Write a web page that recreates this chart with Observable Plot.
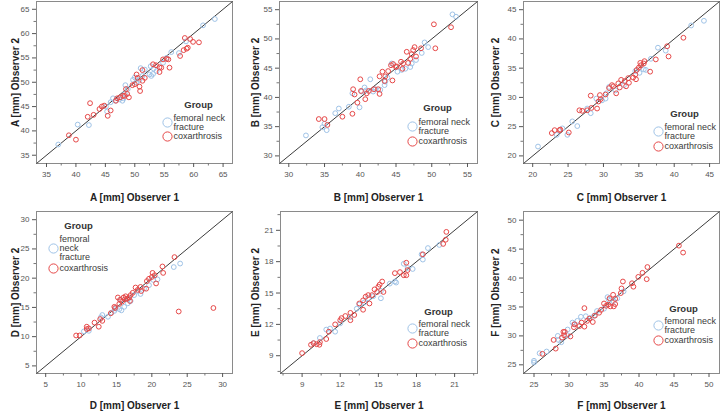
<!DOCTYPE html>
<html><head><meta charset="utf-8">
<script src="https://cdn.jsdelivr.net/npm/d3@7"></script>
<script src="https://cdn.jsdelivr.net/npm/@observablehq/plot@0.6"></script>
<style>
body{margin:0;background:#fff;}
#grid{display:grid;grid-template-columns:240px 240px 240px;grid-template-rows:206px 206px;width:720px;height:412px;overflow:hidden;}
#grid svg{display:block;}
</style></head><body><div id="grid"></div>
<script>
// ---- data: [Observer 1, Observer 2] in mm ----
const A_fracture = [[37.0,37.2],[40.3,41.3],[42.2,41.2],[45.1,45.0],[45.3,44.0],[45.9,45.9],[46.3,46.7],[46.7,46.2],[47.4,46.5],[47.9,46.2],[48.1,46.7],[48.3,47.6],[48.4,49.4],[48.8,48.6],[49.7,50.5],[50.0,51.0],[50.3,50.0],[50.8,50.5],[51.0,52.9],[51.3,51.3],[51.7,52.6],[52.5,51.6],[52.7,53.3],[52.8,51.3],[53.1,51.7],[53.2,52.8],[53.7,52.3],[54.8,54.0],[55.4,55.0],[56.2,56.2],[57.5,56.0],[58.7,58.4],[61.6,61.7],[63.6,63.0]];
const A_cox = [[38.8,39.1],[40.0,38.2],[42.0,42.9],[42.4,45.7],[43.0,43.3],[44.0,44.5],[44.4,45.0],[44.8,45.2],[45.4,43.1],[45.9,44.2],[46.8,46.2],[47.0,46.7],[47.5,46.9],[48.0,47.2],[48.3,47.2],[48.5,48.6],[48.7,47.6],[49.0,46.9],[49.6,49.4],[50.0,49.6],[50.3,51.6],[50.5,50.9],[50.8,49.1],[50.9,48.2],[51.3,50.3],[51.3,52.5],[51.7,50.9],[53.1,53.7],[53.6,53.5],[54.2,53.1],[54.2,52.1],[54.5,53.0],[54.8,54.7],[55.4,54.8],[55.7,54.7],[55.9,53.0],[57.7,55.4],[58.3,56.6],[58.5,59.1],[58.8,56.9],[59.0,57.1],[59.4,58.9],[59.9,58.3],[60.9,58.2]];
const B_fracture = [[32.4,33.5],[34.7,34.9],[35.0,35.5],[35.3,34.4],[36.5,37.3],[37.0,38.1],[38.4,38.4],[38.9,40.7],[39.9,38.3],[40.2,41.0],[40.6,41.7],[40.8,41.2],[41.4,43.1],[41.8,41.0],[42.1,41.4],[42.8,41.3],[43.4,42.1],[43.5,42.7],[43.8,43.4],[44.4,45.8],[45.2,44.4],[45.8,44.7],[46.3,44.9],[47.0,45.2],[47.2,45.8],[47.8,46.4],[48.6,47.6],[49.0,49.4],[49.5,48.6],[52.9,54.2],[53.4,53.8]];
const B_cox = [[34.2,36.3],[35.0,36.3],[35.4,35.3],[37.5,36.7],[38.9,37.2],[39.0,41.4],[39.2,40.5],[39.6,39.1],[40.0,43.1],[40.1,41.1],[40.7,39.7],[40.9,40.7],[41.2,41.1],[41.9,41.4],[42.5,41.4],[42.7,40.6],[42.7,43.6],[43.1,44.4],[43.4,42.8],[43.5,43.6],[43.9,44.5],[44.3,45.5],[44.5,42.9],[44.6,45.7],[45.0,45.2],[45.1,45.3],[45.7,46.1],[45.9,44.9],[46.0,45.8],[46.5,47.8],[46.7,45.9],[47.0,46.6],[47.2,47.4],[47.4,48.1],[47.6,48.6],[47.8,47.0],[48.5,48.4],[50.3,52.5],[50.5,48.4],[52.7,52.0]];
const C_fracture = [[20.75,21.6],[23.4,23.6],[24.2,24.7],[24.9,23.6],[25.6,25.9],[26.3,25.1],[27.7,28.1],[28.2,27.3],[29.0,29.8],[29.8,29.5],[30.3,29.8],[30.4,30.7],[30.8,31.8],[31.7,31.2],[32.9,32.1],[34.5,34.5],[35.1,34.2],[35.7,34.8],[36.0,34.7],[36.7,36.6],[37.7,38.5],[38.8,38.0],[42.4,42.3],[44.2,43.1]];
const C_cox = [[22.7,23.9],[23.1,24.4],[23.8,24.4],[23.9,24.5],[25.1,24.0],[26.6,27.8],[27.0,27.7],[27.7,27.8],[28.2,30.3],[28.3,28.2],[29.1,28.1],[29.3,29.3],[29.5,30.4],[29.6,29.7],[30.3,30.5],[30.8,31.6],[31.2,32.1],[31.4,31.9],[31.8,30.7],[32.1,32.4],[32.3,31.7],[32.5,33.0],[33.0,32.8],[33.2,31.9],[33.5,33.3],[33.6,32.5],[34.2,33.4],[34.5,33.9],[34.6,33.1],[34.7,34.7],[35.0,35.1],[35.2,35.9],[35.3,35.5],[35.7,35.8],[35.8,36.2],[36.6,34.4],[37.4,36.5],[39.0,38.75],[39.2,37.0],[41.3,40.2]];
const D_fracture = [[10.4,10.9],[11.1,11.0],[12.8,13.3],[13.0,13.7],[13.8,13.4],[14.3,14.1],[14.7,14.4],[14.9,14.8],[15.4,14.7],[15.6,16.3],[15.7,14.5],[16.1,15.1],[16.6,15.7],[16.7,16.5],[17.0,16.1],[17.5,17.1],[18.0,17.8],[18.4,17.3],[18.9,18.2],[19.6,18.8],[20.2,19.7],[20.8,19.8],[23.1,21.9],[24.0,22.5]];
const D_cox = [[9.3,10.2],[9.8,10.2],[10.8,11.7],[10.8,11.3],[11.1,11.4],[11.9,12.4],[12.5,11.7],[12.7,13.0],[13.0,12.7],[14.2,14.0],[14.7,15.1],[14.8,14.9],[15.2,16.7],[15.4,15.6],[15.5,16.3],[15.8,16.0],[16.0,16.7],[16.2,16.4],[16.3,16.9],[16.5,16.5],[16.8,16.7],[16.9,16.1],[17.0,17.1],[17.3,17.5],[17.7,18.4],[18.0,18.0],[18.4,18.5],[18.5,17.8],[19.2,18.2],[19.3,19.5],[19.6,19.9],[20.0,20.2],[20.1,20.9],[20.4,20.5],[20.6,19.1],[21.5,22.0],[21.6,20.9],[23.2,23.6],[23.8,14.3],[28.7,14.9]];
const E_fracture = [[9.9,10.2],[10.4,10.7],[10.9,11.5],[11.2,11.6],[11.6,11.3],[12.0,12.1],[12.8,12.7],[13.3,13.5],[13.5,13.9],[13.9,14.1],[14.2,14.5],[14.6,14.7],[15.2,14.5],[15.2,15.2],[15.9,15.9],[16.3,16.1],[16.4,16.0],[17.0,17.8],[17.3,17.4],[17.7,17.3],[18.4,18.7],[18.5,18.2],[18.9,19.3],[19.8,19.6]];
const E_cox = [[9.0,9.25],[9.7,10.05],[9.9,10.2],[10.15,10.1],[10.36,10.05],[10.4,10.3],[10.9,10.6],[11.1,11.3],[11.6,12.0],[12.0,12.4],[12.1,12.6],[12.4,12.8],[12.8,13.1],[12.8,12.4],[13.1,12.9],[13.5,14.0],[13.8,13.4],[13.8,14.3],[14.0,14.65],[14.2,14.8],[14.3,14.0],[14.5,14.8],[14.7,15.35],[14.9,15.1],[15.0,15.6],[15.1,15.8],[15.3,16.1],[15.4,15.1],[16.3,16.9],[16.7,17.0],[17.0,16.7],[17.2,16.7],[17.2,17.9],[17.3,17.2],[18.5,18.7],[20.1,19.7],[20.3,20.1],[20.35,20.85]];
const F_fracture = [[25.0,25.4],[25.0,25.7],[25.8,27.0],[26.8,27.3],[28.4,30.0],[28.5,29.3],[28.9,28.9],[29.8,30.1],[29.8,31.1],[30.5,32.3],[30.7,32.0],[31.2,32.6],[31.7,33.3],[32.4,33.4],[33.1,33.1],[33.6,33.5],[34.0,34.3],[35.0,34.7],[35.5,36.7],[35.7,36.25],[36.3,36.0],[36.9,36.5],[37.8,37.7]];
const F_cox = [[26.2,26.9],[27.8,29.3],[28.1,27.8],[29.0,29.7],[29.2,30.7],[29.3,30.1],[29.4,30.7],[30.2,29.9],[30.7,31.5],[30.8,32.0],[31.5,31.7],[31.8,32.3],[32.2,34.8],[32.2,31.6],[32.6,32.6],[32.9,33.0],[33.4,32.4],[33.7,33.5],[34.3,34.0],[34.6,34.5],[35.0,35.6],[35.3,35.2],[35.6,35.4],[35.8,36.5],[35.9,35.1],[36.3,37.1],[36.4,35.1],[36.6,35.5],[36.6,36.4],[37.4,37.4],[37.5,38.2],[37.7,39.4],[39.0,39.1],[39.2,38.5],[39.9,40.2],[40.5,40.9],[41.1,39.8],[41.2,41.9],[45.7,45.6],[46.3,44.4]];

// ---- tick labels per panel ----
const A_ticks = [35,40,45,50,55,60,65];
const B_ticks = [30,35,40,45,50,55];
const C_ticks = [20,25,30,35,40,45];
const D_ticks = [5,10,15,20,25,30];
const E_ticks = [9,12,15,18,21];
const F_ticks = [25,30,35,40,45,50];

const groups = ["femoral neck fracture","coxarthrosis"];
const BLUE = "#9fc3e7", RED = "#e64848";
const FONT = "'Liberation Sans', Arial, sans-serif";

// layout (axis extents, margins, legend placement)
const panels = [
  {letter:"A", fr:A_fracture, cx:A_cox, ticks:A_ticks, domain:[33.3,66.6], ml:36, mr:8, row:0,
   lg:{anchor:"bottom-right", gx:-34, gy:-59, cx:-65, by:-41, ry:-27, label:"femoral neck\nfracture"}},
  {letter:"B", fr:B_fracture, cx:B_cox, ticks:B_ticks, domain:[28.7,56.4], ml:39, mr:3, row:0,
   lg:{anchor:"bottom-right", gx:-40, gy:-56, cx:-65, by:-37, ry:-22, label:"femoral neck\nfracture"}},
  {letter:"C", fr:C_fracture, cx:C_cox, ticks:C_ticks, domain:[18.7,46.4], ml:43, mr:1, row:0,
   lg:{anchor:"bottom-right", gx:-35, gy:-50, cx:-61, by:-32, ry:-17, label:"femoral neck\nfracture"}},
  {letter:"D", fr:D_fracture, cx:D_cox, ticks:D_ticks, domain:[3.7,31.4], ml:36, mr:8, row:1,
   lg:{anchor:"top-left", gx:42, gy:14, cx:17, by:37, ry:57, label:"femoral\nneck\nfracture"}},
  {letter:"E", fr:E_fracture, cx:E_cox, ticks:E_ticks, domain:[7.3,22.8], ml:40, mr:3, row:1,
   lg:{anchor:"bottom-right", gx:-39, gy:-62, cx:-65, by:-45, ry:-30, label:"femoral neck\nfracture"}},
  {letter:"F", fr:F_fracture, cx:F_cox, ticks:F_ticks, domain:[23.5,51.5], ml:43, mr:1, row:1,
   lg:{anchor:"bottom-right", gx:-36, gy:-65, cx:-61, by:-48, ry:-33, label:"femoral neck\nfracture"}}
];

function makePanel(p) {
  const step = p.ticks[1] - p.ticks[0];
  const minor = p.ticks.map(t => t - step/2).concat([p.ticks[p.ticks.length-1] + step/2])
    .filter(t => t > p.domain[0] && t < p.domain[1]);
  const mt = p.row === 0 ? 1 : 5, mb = p.row === 0 ? 43 : 39;
  const L = p.lg;
  const txt = {fill:"#3a3a3a", fontSize:9};
  return Plot.plot({
    width: 240, height: 206,
    marginLeft: p.ml, marginRight: p.mr, marginTop: mt, marginBottom: mb,
    x: {domain: p.domain}, y: {domain: p.domain},
    style: {fontFamily: FONT, background: "#fff", overflow: "hidden"},
    marks: [
      Plot.frame({stroke: "#8a8a8a"}),
      Plot.link([p.domain], {x1: d => d[0], y1: d => d[0], x2: d => d[1], y2: d => d[1], stroke: "#3c3c3c", strokeWidth: 1}),
      Plot.dot(p.fr, {x: d => d[0], y: d => d[1], r: 2.4, stroke: BLUE, strokeWidth: 1, fill: "none"}),
      Plot.dot(p.cx, {x: d => d[0], y: d => d[1], r: 2.4, stroke: RED, strokeWidth: 1, fill: "none"}),
      Plot.axisX(p.ticks, {tickSize: 4, tickPadding: 4, fontSize: 8, color: "#555", label: null}),
      Plot.axisX(minor, {tickSize: 2.5, tickFormat: () => "", color: "#777", label: null}),
      Plot.axisY(p.ticks, {tickSize: 4, tickPadding: 3, fontSize: 8, color: "#555", label: null}),
      Plot.axisY(minor, {tickSize: 2.5, tickFormat: () => "", color: "#777", label: null}),
      Plot.text([`${p.letter} [mm] Observer 1`], {text: d => d, frameAnchor: "bottom", dy: p.row === 0 ? 34 : 32, lineAnchor: "middle", fontWeight: "bold", fontSize: 10, fill: "#222"}),
      Plot.text([`${p.letter} [mm] Observer 2`], {text: d => d, frameAnchor: "left", dx: -(p.ml - 15), rotate: -90, textAnchor: "middle", lineAnchor: "middle", fontWeight: "bold", fontSize: 10, fill: "#222"}),
      // legend
      Plot.text(["Group"], {text: d => d, frameAnchor: L.anchor, dx: L.gx, dy: L.gy, textAnchor: "middle", lineAnchor: "middle", fontWeight: "bold", fontSize: 9.5, fill: "#333"}),
      Plot.dot([groups[0]], {frameAnchor: L.anchor, dx: L.cx, dy: L.by, r: 4.6, stroke: BLUE, strokeWidth: 1, fill: "none"}),
      Plot.dot([groups[1]], {frameAnchor: L.anchor, dx: L.cx, dy: L.ry, r: 4.6, stroke: RED, strokeWidth: 1, fill: "none"}),
      Plot.text([L.label], {text: d => d, frameAnchor: L.anchor, dx: L.cx + 6, dy: L.by, textAnchor: "start", lineAnchor: "middle", lineHeight: 1.0, ...txt}),
      Plot.text([groups[1]], {text: d => d, frameAnchor: L.anchor, dx: L.cx + 6, dy: L.ry, textAnchor: "start", lineAnchor: "middle", ...txt})
    ]
  });
}

const grid = document.getElementById("grid");
for (const p of panels) grid.appendChild(makePanel(p));
</script>
</body></html>
